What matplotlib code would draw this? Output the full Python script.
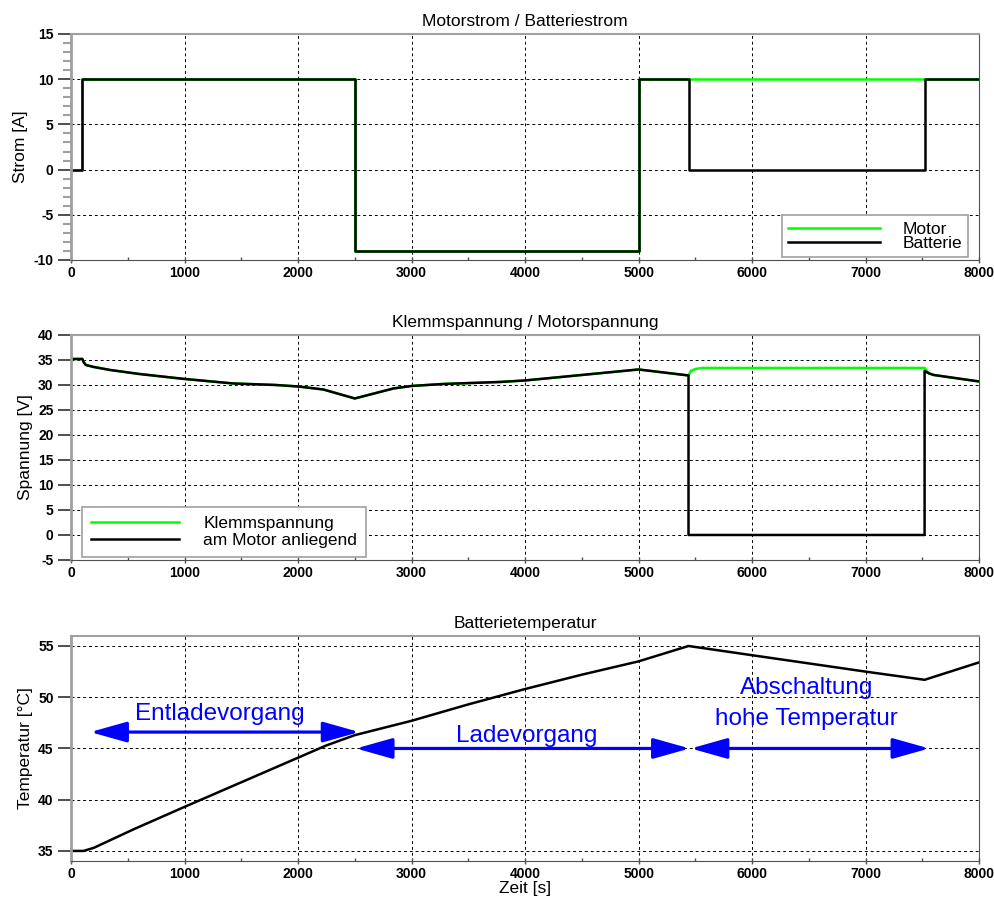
import numpy as np
import matplotlib.pyplot as plt
from matplotlib.ticker import MultipleLocator

plt.rcParams['font.family'] = ['Liberation Sans', 'DejaVu Sans']
plt.rcParams['axes.unicode_minus'] = False

# Motorstrom / Batteriestrom
t_strom = [0, 100, 100, 2500, 2500, 5000, 5000, 5440, 5440, 7520, 7520, 8000]
i_motor = [0, 0, 10, 10, -9, -9, 10, 10, 10, 10, 10, 10]
i_batt = [0, 0, 10, 10, -9, -9, 10, 10, 0, 0, 10, 10]

# Klemmspannung / Motorspannung
t_klemm = [0, 100, 110, 130, 200, 344, 600, 1000, 1428, 1800, 2000, 2222, 2500,
           2840, 3000, 3280, 3780, 4000, 5000, 5440, 5460, 5500, 5560, 7520,
           7560, 7600, 8000]
u_klemm = [35.2, 35.2, 34.6, 34.0, 33.6, 33.0, 32.2, 31.2, 30.3, 30.0, 29.7, 29.1, 27.3,
           29.3, 29.8, 30.2, 30.6, 30.9, 33.1, 31.9, 32.8, 33.2, 33.4, 33.4,
           32.3, 32.0, 30.7]
t_motor = [0, 100, 110, 130, 200, 344, 600, 1000, 1428, 1800, 2000, 2222, 2500,
           2840, 3000, 3280, 3780, 4000, 5000, 5440, 5440, 7520, 7520,
           7560, 7600, 8000]
u_motor = [35.2, 35.2, 34.6, 34.0, 33.6, 33.0, 32.2, 31.2, 30.3, 30.0, 29.7, 29.1, 27.3,
           29.3, 29.8, 30.2, 30.6, 30.9, 33.1, 31.9, 0, 0, 32.8,
           32.3, 32.0, 30.7]

# Batterietemperatur
t_temp = [0, 110, 200, 549, 1000, 1500, 2000, 2250, 2500, 3000, 3500, 4000, 4500,
          5000, 5440, 6000, 7000, 7520, 8000]
temp = [35, 35, 35.3, 37.1, 39.3, 41.7, 44.1, 45.3, 46.3, 47.7, 49.3, 50.8, 52.2,
        53.5, 55.0, 54.1, 52.5, 51.7, 53.4]

FS = 12.5
GRAY = '#a0a0a0'
DARK = '#505050'


def style(ax, ymin, ymax, ystep, yminor=None):
    ax.set_xlim(0, 8000)
    ax.set_ylim(ymin, ymax)
    ax.xaxis.set_major_locator(MultipleLocator(1000))
    ax.xaxis.set_minor_locator(MultipleLocator(500))
    ax.yaxis.set_major_locator(MultipleLocator(ystep))
    if yminor:
        ax.yaxis.set_minor_locator(MultipleLocator(yminor))
        ax.tick_params(axis='y', which='minor', direction='out', length=6,
                       width=1.5, color=GRAY)
    ax.grid(True, which='major', color='black', linestyle=(0, (3, 3)), linewidth=0.7)
    ax.tick_params(axis='y', which='major', direction='out', length=9.5,
                   width=1.2, color='#303030', pad=3, labelsize=10)
    ax.tick_params(axis='x', which='major', direction='inout', length=4,
                   width=1, color=DARK, pad=2, labelsize=10)
    ax.tick_params(axis='x', which='minor', direction='in', length=2,
                   width=1, color=DARK)
    for lbl in ax.get_xticklabels() + ax.get_yticklabels():
        lbl.set_fontweight('bold')
    ax.spines['left'].set_color(GRAY)
    ax.spines['left'].set_linewidth(2)
    ax.spines['top'].set_color(GRAY)
    ax.spines['top'].set_linewidth(1.5)
    ax.spines['right'].set_color(DARK)
    ax.spines['bottom'].set_color(DARK)


fig = plt.figure(figsize=(9.95, 8.99), dpi=100)
ax1 = fig.add_axes([0.0714, 0.7108, 0.9126, 0.2514])
ax2 = fig.add_axes([0.0714, 0.3771, 0.9126, 0.2503])
ax3 = fig.add_axes([0.0714, 0.0423, 0.9126, 0.2503])

# Strom
ax1.plot(t_strom, i_motor, color='#00ff00', lw=1.8, label='Motor')
ax1.plot(t_strom, i_batt, color='black', lw=1.8, label='Batterie')
style(ax1, -10, 15, 5, 1)
ax1.set_title('Motorstrom / Batteriestrom', fontsize=FS, pad=6)
ax1.set_ylabel('Strom [A]', fontsize=FS)
leg = ax1.legend(loc='lower right', bbox_to_anchor=(0.988, 0.013), borderaxespad=0,
                 fontsize=FS, fancybox=False, framealpha=1, edgecolor=GRAY,
                 handlelength=5.3, handletextpad=1.3, labelspacing=-0.05, borderpad=0.35)
leg.get_frame().set_linewidth(1.2)

# Spannung
ax2.plot(t_klemm, u_klemm, color='#00ff00', lw=1.8, label='Klemmspannung')
ax2.plot(t_motor, u_motor, color='black', lw=1.8, label='am Motor anliegend')
style(ax2, -5, 40, 5)
ax2.set_title('Klemmspannung / Motorspannung', fontsize=FS, pad=6)
ax2.set_ylabel('Spannung [V]', fontsize=FS)
leg = ax2.legend(loc='lower left', bbox_to_anchor=(0.012, 0.013), borderaxespad=0,
                 fontsize=FS, fancybox=False, framealpha=1, edgecolor=GRAY,
                 handlelength=5.1, handletextpad=1.4, labelspacing=0.15, borderpad=0.5)
leg.get_frame().set_linewidth(1.2)

# Temperatur
ax3.plot(t_temp, temp, color='black', lw=1.8)
style(ax3, 34.02, 55.98, 5)
ax3.set_title('Batterietemperatur', fontsize=FS, pad=6)
ax3.set_ylabel('Temperatur [°C]', fontsize=FS)
ax3.set_xlabel('Zeit [s]', fontsize=FS, labelpad=0)

arrow = dict(arrowstyle='<|-|>,head_length=1.6,head_width=0.45', color='#0000ff',
             lw=2.3, shrinkA=0, shrinkB=0, mutation_scale=14)
ax3.annotate('', xy=(170, 46.6), xytext=(2540, 46.6), arrowprops=arrow)
ax3.annotate('', xy=(2510, 45.0), xytext=(5450, 45.0), arrowprops=arrow)
ax3.annotate('', xy=(5460, 45.0), xytext=(7560, 45.0), arrowprops=arrow)

ax3.text(1313, 47.8, 'Entladevorgang', color='#0000ff', fontsize=17.5,
         ha='center', va='baseline')
ax3.text(4018, 45.65, 'Ladevorgang', color='#0000ff', fontsize=17.5,
         ha='center', va='baseline')
ax3.text(6482, 50.29, 'Abschaltung', color='#0000ff', fontsize=17.5,
         ha='center', va='baseline')
ax3.text(6482, 47.29, 'hohe Temperatur', color='#0000ff', fontsize=17.5,
         ha='center', va='baseline')

fig.savefig('out.png', dpi=100)
